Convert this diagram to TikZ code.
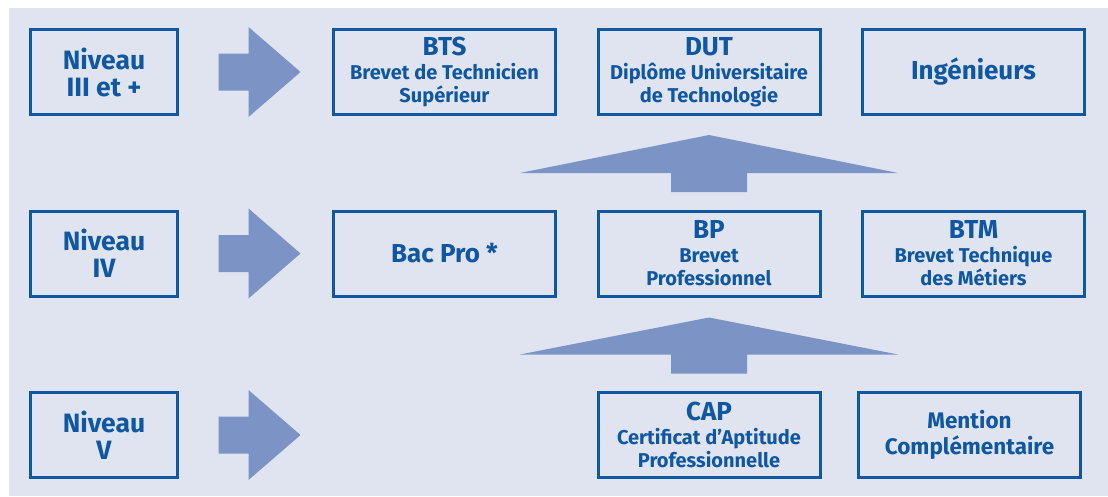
\documentclass[tikz,border=0pt]{standalone}
\usepackage{fontspec}
\setmainfont{Fira Sans}
\usetikzlibrary{positioning}
\usetikzlibrary{calc}
\definecolor{fond}{HTML}{DFE4F0}
\definecolor{bleu}{HTML}{0F57A0}
\definecolor{fleche}{HTML}{7B93C5}
\newcommand{\grand}{\fontsize{26}{27}\selectfont}

\begin{document}
\begin{tikzpicture}[x=1pt,y=-1pt,node distance=264.5pt,text=bleu]
		\tikzstyle{niveau}=[draw=bleu,line width=3pt,minimum width=147pt,minimum height=85pt,
		inner sep=0pt,align=center,font=\fontsize{26.5}{27}\selectfont\bfseries]
		\tikzstyle{diplome}=[draw=bleu,line width=3pt,minimum width=222pt,minimum height=85pt,
		inner sep=0pt,align=center,font=\fontsize{20}{23}\selectfont\bfseries]
		
		\useasboundingbox (0,0) rectangle (1108,496);
		\fill[fond] (9,8) rectangle (1108,496);
		
		\node[niveau]  (NivIII)  at (104,72)                 {Niveau\\III et +};
		\node[niveau]  (NivIV)   [node distance=181.5pt,below of=NivIII] {Niveau\\IV};
		\node[niveau]  (NivV)    [node distance=181.5pt,below of=NivIV]  {Niveau\\V};
		
		\node[diplome] (BTS)     at (444.5,72)              {{\grand BTS}\\[1pt]Brevet de Technicien\\Supérieur};
		\node[diplome] (DUT)     [right of=BTS]             {{\grand DUT}\\[1pt]Diplôme Universitaire\\de Technologie};
		\node[diplome] (Ing)     [right of=DUT]             {\grand Ingénieurs};
		\node[diplome] (BacPro)  [node distance=181.5pt,below of=BTS] {\grand Bac Pro *};
		\node[diplome] (BP)      [node distance=181.5pt,below of=DUT] {{\grand BP}\\[1pt]Brevet\\Professionnel};
		\node[diplome] (BTM)     [node distance=181.5pt,below of=Ing] {{\grand BTM}\\[1pt]Brevet Technique\\des Métiers};
		\node[diplome] (CAP)     [node distance=181.5pt,below of=BP]  {{\grand CAP}\\[1pt]Certificat d’Aptitude\\Professionnelle};
		\node[diplome] (MC)      [node distance=181.5pt,below of=BTM,xshift=-4pt,
		font=\fontsize{22.5}{26}\selectfont\bfseries] {Mention\\Complémentaire};
		
		% fleches vers la droite
		\fill[fleche] ($(NivIII.east)+(39.5,-18.5)$) -- ++(30,0) -- ++(0,-26.5) -- ++(52,45)
		-- ++(-52,45) -- ++(0,-26.5) -- ++(-30,0) -- cycle;
		\fill[fleche] ($(NivIV.east)+(39.5,-18.5)$) -- ++(30,0) -- ++(0,-26.5) -- ++(52,45)
		-- ++(-52,45) -- ++(0,-26.5) -- ++(-30,0) -- cycle;
		\fill[fleche] ($(NivV.east)+(39.5,-18.5)$) -- ++(30,0) -- ++(0,-26.5) -- ++(52,45)
		-- ++(-52,45) -- ++(0,-26.5) -- ++(-30,0) -- cycle;
		
		% fleches vers le haut
		\fill[fleche] ($(BP.north)+(-38,-17.5)$) -- ++(0,-19) -- ++(-151,0) -- ++(189,-38)
		-- ++(189,38) -- ++(-151,0) -- ++(0,19) -- cycle;
		\fill[fleche] ($(CAP.north)+(-38,-17.5)$) -- ++(0,-19) -- ++(-151,0) -- ++(189,-37)
		-- ++(189,37) -- ++(-151,0) -- ++(0,19) -- cycle;
\end{tikzpicture}
\end{document}
